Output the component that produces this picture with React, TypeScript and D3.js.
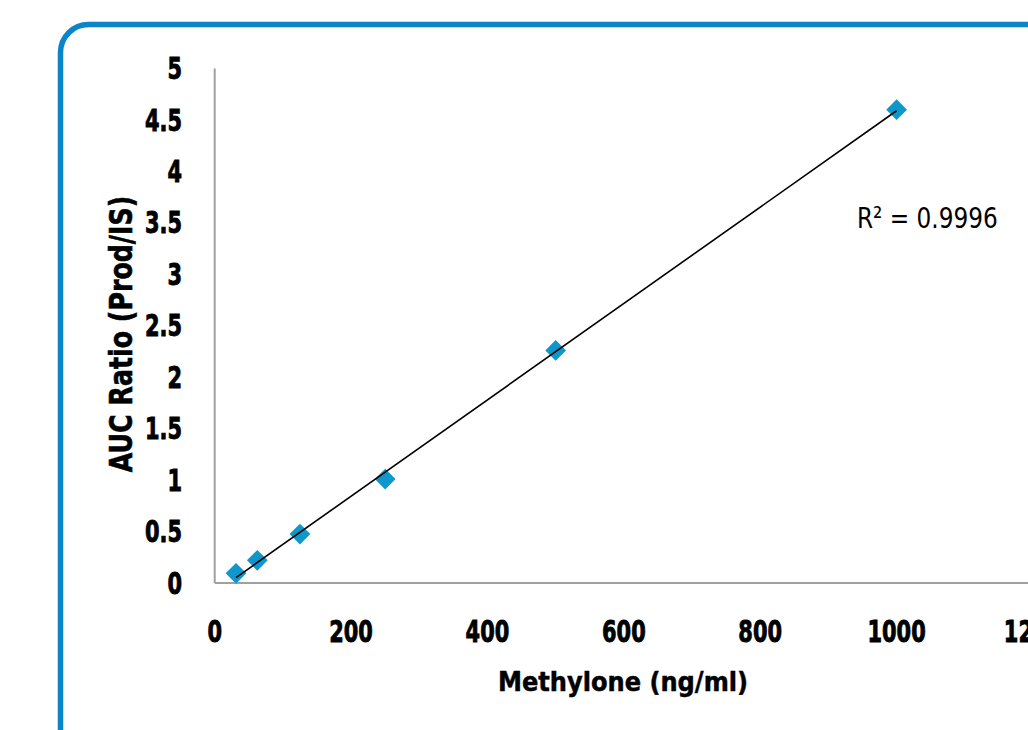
import { useEffect, useRef } from 'react';
import * as d3 from 'd3';

// Calibration points
const concentrations = [31.25, 62.5, 125, 250, 500, 1000];
const aucRatios = [0.094, 0.22, 0.476, 1.01, 2.26, 4.6];
const xTicks = [0, 200, 400, 600, 800, 1000, 1200];
const yTicks = [0, 0.5, 1, 1.5, 2, 2.5, 3, 3.5, 4, 4.5, 5];
const r2Label = 'R² = 0.9996';

const FONT = '"DejaVu Sans", sans-serif';
// condensed look: squeeze glyphs horizontally
const TICK_SQUEEZE = 0.71;

export default function App() {
  const svgRef = useRef<SVGSVGElement>(null);

  useEffect(() => {
    document.body.style.margin = '0';
    const svg = d3.select(svgRef.current);
    svg.selectAll('*').remove();

    // Blue rounded frame (runs past the right and bottom edges)
    svg.append('rect')
      .attr('x', 60.5)
      .attr('y', 24.5)
      .attr('width', 1100)
      .attr('height', 800)
      .attr('rx', 28)
      .attr('fill', 'none')
      .attr('stroke', '#0a86c8')
      .attr('stroke-width', 5.5);

    const x = d3.scaleLinear().domain([0, 1200]).range([214.7, 1033]);
    const y = d3.scaleLinear().domain([0, 5]).range([583, 68.5]);

    // Axis lines
    svg.append('line')
      .attr('x1', x(0)).attr('x2', x(1200) + 10)
      .attr('y1', y(0)).attr('y2', y(0))
      .attr('stroke', '#a0a0a0').attr('stroke-width', 2);
    svg.append('line')
      .attr('x1', x(0)).attr('x2', x(0))
      .attr('y1', y(0)).attr('y2', y(5))
      .attr('stroke', '#a0a0a0').attr('stroke-width', 2);

    // Tick labels
    svg.selectAll('.ylab')
      .data(yTicks)
      .join('text')
      .attr('class', 'ylab')
      .attr('transform', d => `translate(182,${y(d)}) scale(${TICK_SQUEEZE},1)`)
      .attr('dy', '0.36em')
      .attr('text-anchor', 'end')
      .attr('font-family', FONT)
      .attr('font-weight', 'bold')
      .attr('font-size', 29.5)
      .attr('fill', '#000')
      .attr('stroke', '#000')
      .attr('stroke-width', 0.9)
      .text(d => String(d));

    svg.selectAll('.xlab')
      .data(xTicks)
      .join('text')
      .attr('class', 'xlab')
      .attr('transform', d => `translate(${x(d)},641.5) scale(${TICK_SQUEEZE},1)`)
      .attr('text-anchor', 'middle')
      .attr('font-family', FONT)
      .attr('font-weight', 'bold')
      .attr('font-size', 29.5)
      .attr('fill', '#000')
      .attr('stroke', '#000')
      .attr('stroke-width', 0.9)
      .text(d => String(d));

    // Axis titles
    svg.append('text')
      .attr('transform', 'translate(623,691) scale(0.91,1)')
      .attr('text-anchor', 'middle')
      .attr('font-family', FONT)
      .attr('font-weight', 'bold')
      .attr('font-size', 26.5)
      .attr('stroke', '#000')
      .attr('stroke-width', 0.5)
      .text('Methylone (ng/ml)');

    svg.append('text')
      .attr('transform', 'translate(132,334) rotate(-90) scale(0.79,1)')
      .attr('text-anchor', 'middle')
      .attr('font-family', FONT)
      .attr('font-weight', 'bold')
      .attr('font-size', 32)
      .attr('stroke', '#000')
      .attr('stroke-width', 0.6)
      .text('AUC Ratio (Prod/IS)');

    // Linear trendline (least squares)
    const mx = d3.mean(concentrations) as number;
    const my = d3.mean(aucRatios) as number;
    const sxy = d3.sum(concentrations, (c, i) => (c - mx) * (aucRatios[i] - my));
    const sxx = d3.sum(concentrations, c => (c - mx) ** 2);
    const slope = sxy / sxx;
    const intercept = my - slope * mx;
    const x0 = d3.min(concentrations) as number;
    const x1 = d3.max(concentrations) as number;

    // Diamond markers
    const diamond = d3.symbol().type(d3.symbolSquare).size(215);
    svg.selectAll('.pt')
      .data(concentrations)
      .join('path')
      .attr('class', 'pt')
      .attr('d', diamond)
      .attr('transform', (d, i) => `translate(${x(d)},${y(aucRatios[i])}) rotate(45)`)
      .attr('fill', '#0e97cb');

    svg.append('line')
      .attr('x1', x(x0)).attr('y1', y(slope * x0 + intercept))
      .attr('x2', x(x1)).attr('y2', y(slope * x1 + intercept))
      .attr('stroke', '#000')
      .attr('stroke-width', 1.6);

    svg.append('text')
      .attr('transform', 'translate(857,228) scale(0.8,1)')
      .attr('font-family', FONT)
      .attr('font-size', 29)
      .attr('fill', '#000')
      .text(r2Label);
  }, []);

  return (
    <svg
      ref={svgRef}
      width={1028}
      height={730}
      style={{ position: 'absolute', left: 0, top: 0, background: '#fff' }}
    />
  );
}
